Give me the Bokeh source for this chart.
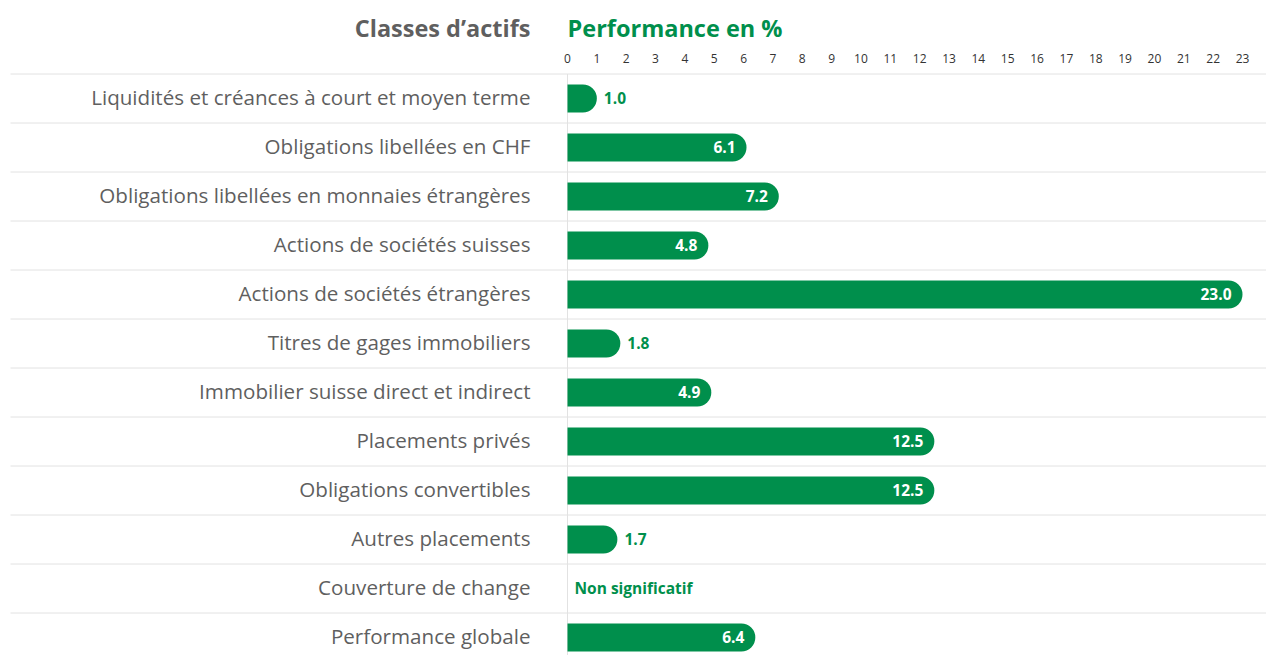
from bokeh.plotting import figure
from bokeh.models import Range1d, ColumnDataSource
from bokeh.core.properties import value
from bokeh.embed import file_html
from bokeh.resources import INLINE

categories = [
    "Liquidités et créances à court et moyen terme",
    "Obligations libellées en CHF",
    "Obligations libellées en monnaies étrangères",
    "Actions de sociétés suisses",
    "Actions de sociétés étrangères",
    "Titres de gages immobiliers",
    "Immobilier suisse direct et indirect",
    "Placements privés",
    "Obligations convertibles",
    "Autres placements",
    "Couverture de change",
    "Performance globale",
]
performance = [1.0, 6.1, 7.2, 4.8, 23.0, 1.8, 4.9, 12.5, 12.5, 1.7, None, 6.4]
value_labels = ["1.0", "6.1", "7.2", "4.8", "23.0", "1.8", "4.9", "12.5", "12.5", "1.7", "Non significatif", "6.4"]
ticks = list(range(0, 24))
title_left = "Classes d’actifs"
title_right = "Performance en %"

GREEN = "#008f4c"
GREY_TXT = "#5f5f5f"
LINE = "#e2e2e2"
FONT = "Open Sans"

W, H = 1266, 655
x0_px = 567
scale = (1242 - 567) / 23.0
row_h = 49.0
row0_px = 98.0

x_start = -x0_px / scale
x_end = (W - x0_px) / scale
y_top = -row0_px / row_h
y_bot = (H - row0_px) / row_h

p = figure(width=W, height=H, output_backend="svg", toolbar_location=None,
           x_range=Range1d(x_start, x_end), y_range=Range1d(y_bot, y_top),
           min_border=0, outline_line_color=None)
p.axis.visible = False
p.grid.visible = False
p.background_fill_color = "white"
p.border_fill_color = "white"

n = len(categories)
rows = list(range(n))

# separator lines
x_line_left = (10 - x0_px) / scale
sep_y = [i - 0.5 for i in rows]
p.segment(x0=[x_line_left] * n, x1=[x_end] * n, y0=sep_y, y1=sep_y, line_color=LINE, line_width=1)
# vertical zero line
p.segment(x0=[0], x1=[0], y0=[-0.5], y1=[y_bot], line_color=LINE, line_width=1)

# bars
bar_rows = [i for i, v in enumerate(performance) if v is not None]
bar_vals = [performance[i] for i in bar_rows]
src = ColumnDataSource(dict(y=bar_rows, right=bar_vals))
p.hbar(y="y", left=0, right="right", height=28 / row_h, source=src,
       fill_color=GREEN, line_color=None, border_radius=(0, 14, 14, 0))

# value labels
in_x, in_y, in_t = [], [], []
out_x, out_y, out_t = [], [], []
for i, v in enumerate(performance):
    if v is None:
        out_x.append(0.0); out_y.append(i); out_t.append(value_labels[i])
    elif v >= 3:
        in_x.append(v); in_y.append(i); in_t.append(value_labels[i])
    else:
        out_x.append(v); out_y.append(i); out_t.append(value_labels[i])

p.text(x=in_x, y=in_y, text=in_t, x_offset=-11, y_offset=-1, text_align="right", text_baseline="middle",
       text_color="white", text_font=value(FONT), text_font_style="bold", text_font_size="15.5px")
p.text(x=out_x, y=out_y, text=out_t, x_offset=7, y_offset=-1, text_align="left", text_baseline="middle",
       text_color=GREEN, text_font=value(FONT), text_font_style="bold", text_font_size="15.5px")

# category labels
lab_x = (530 - x0_px) / scale
p.text(x=[lab_x] * n, y=rows, text=categories, y_offset=-2, text_align="right", text_baseline="middle",
       text_color=GREY_TXT, text_font=value(FONT), text_font_size="20.6px")

# tick labels
tick_y = (58 - row0_px) / row_h
p.text(x=ticks, y=[tick_y] * len(ticks), text=[str(t) for t in ticks], text_align="center",
       text_baseline="middle", text_color="#333333", text_font=value(FONT), text_font_size="12px")

# titles
title_y = (27 - row0_px) / row_h
p.text(x=[lab_x], y=[title_y], text=[title_left], text_align="right", text_baseline="middle",
       text_color=GREY_TXT, text_font=value(FONT), text_font_style="bold", text_font_size="23.5px")
p.text(x=[0], y=[title_y], text=[title_right], text_align="left", text_baseline="middle",
       text_color=GREEN, text_font=value(FONT), text_font_style="bold", text_font_size="23.5px")

open("out.html", "w").write(file_html(p, INLINE))
